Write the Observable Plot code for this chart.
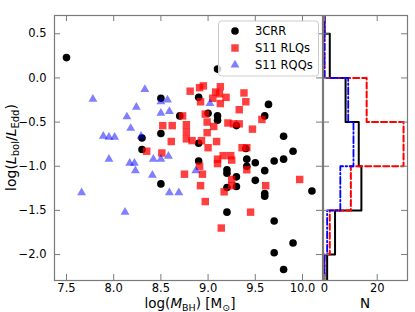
<!DOCTYPE html>
<html><head><meta charset="utf-8">
<script src="https://cdn.jsdelivr.net/npm/d3@7"></script>
<script src="https://cdn.jsdelivr.net/npm/@observablehq/plot@0.6"></script>
<style>
body{margin:0;background:#fff;}
#chart{position:relative;width:415px;height:312px;}
#chart svg{position:absolute;left:0;top:0;}
</style></head><body><div id="chart"></div>
<script>
// ---- data ----
const massTicks = [7.5, 8.0, 8.5, 9.0, 9.5, 10.0];
const ratioTicks = [0.5, 0.0, -0.5, -1.0, -1.5, -2.0];
const countTicks = [0, 20];
const seriesNames = ["3CRR", "S11 RLQs", "S11 RQQs"];

// 3CRR: [log M_BH, log L_bol/L_Edd]
const crr = [
  [7.50,0.23],[9.10,0.10],[8.50,-0.23],[8.90,-0.22],[8.70,-0.43],[9.00,-0.40],
  [9.10,-0.43],[9.10,-0.48],[9.64,-0.30],[9.60,-0.43],[9.30,-0.54],[8.50,-0.63],
  [8.30,-0.68],[9.80,-0.66],[8.90,-0.74],[8.30,-0.81],[9.40,-0.80],[9.90,-0.83],
  [9.80,-0.92],[9.70,-0.94],[8.90,-0.94],[9.50,-0.96],[9.41,-0.92],[9.41,-1.00],
  [9.60,-1.05],[9.20,-1.04],[9.20,-1.08],[9.30,-1.12],[9.30,-1.23],[9.20,-1.24],
  [9.50,-1.16],[8.50,-1.20],[9.60,-1.31],[9.60,-1.34],[10.10,-1.28],[9.20,-1.52],
  [9.70,-1.62],[9.90,-1.87],[9.70,-1.98],[9.80,-2.17]
];
// S11 RLQs
const rlq = [
  [8.81,-0.15],[8.91,-0.11],[8.95,-0.09],[9.08,-0.16],[9.13,-0.10],[9.05,-0.23],
  [9.12,-0.18],[9.19,-0.22],[9.13,-0.29],[9.38,-0.17],[9.40,-0.27],[9.33,-0.36],
  [8.97,-0.41],[8.73,-0.43],[8.92,-0.27],[9.57,-0.47],
  [8.52,-0.54],[8.62,-0.54],[8.61,-0.72],[8.77,-0.53],[8.77,-0.61],[8.83,-0.71],
  [8.93,-0.71],[8.99,-0.62],[9.09,-0.72],[8.99,-0.50],[9.06,-0.55],[9.21,-0.51],
  [9.27,-0.52],[9.33,-0.52],[9.47,-0.58],[9.36,-0.79],[9.41,-0.79],[9.00,-0.79],
  [8.35,-0.83],[8.51,-0.85],[9.10,-0.92],[9.16,-0.88],[9.24,-0.88],[9.25,-0.93],
  [9.10,-0.97],[8.77,-0.69],
  [8.91,-1.00],[8.94,-1.09],[8.75,-1.09],[8.92,-1.22],[8.97,-1.40],[9.17,-1.29],
  [9.41,-1.04],[9.25,-1.15],[9.25,-1.22],[9.61,-1.22],[9.97,-1.15],
  [9.45,-1.52],[9.14,-1.70]
];
// S11 RQQs
const rqq = [
  [7.78,-0.24],[8.33,-0.13],[8.50,-0.27],[8.57,-0.25],[8.24,-0.33],[8.50,-0.40],
  [8.59,-0.38],[8.14,-0.44],[9.02,-0.29],
  [8.18,-0.57],[7.89,-0.66],[7.95,-0.67],[8.01,-0.67],[8.29,-0.66],[7.95,-0.92],
  [8.17,-0.965],[8.22,-0.965],[8.42,-0.92],[8.50,-0.92],[8.58,-0.885],
  [8.23,-1.05],[8.41,-1.10],[7.66,-1.30],[8.59,-1.30],[8.69,-1.30],[8.87,-1.05],
  [8.12,-1.52]
];
// histogram (counts per bin, bins listed top to bottom)
const binEdges = [1.0, 0.5, 0.0, -0.5, -1.0, -1.5, -2.0, -2.5];
const histCRR = [0, 2, 8, 13, 14, 4, 1];
const histRLQ = [0, 0, 16, 30, 10, 2, 0];
const histRQQ = [0, 0, 9, 11, 6, 1, 0];

// ---- layout ----
const W = 415, H = 312, mT = 15, mB = 32, mL = 54, frameR = 322, histL = 323, histR = 407;
const plotH = H - mT - mB, mainW = frameR - mL, histW = histR - histL;
const grey = "#7a7a7a";
const fmt = d => (d < 0 ? "\u2212" : "") + Math.abs(d).toFixed(1);
const yDomain = [-2.294, 0.707];
const font = {fontFamily: "DejaVu Sans", fontSize: "11.5px", background: "transparent", color: "#000", overflow: "visible"};
const redC = "#ff0000", blueC = "#0000ff";
const rCirc = 3.8, rSq = 4.2, rTri = 3.3;

const main = Plot.plot({
  width: W, height: H, marginLeft: mL, marginRight: W - frameR, marginTop: mT, marginBottom: mB,
  style: font,
  x: {domain: [7.373, 10.212]},
  y: {domain: yDomain},
  marks: [
    Plot.dot(crr, {x: d => d[0], y: d => d[1], r: rCirc, fill: "black", stroke: "none"}),
    Plot.dot(rlq, {x: d => d[0], y: d => d[1], r: rSq, symbol: "square", fill: redC, fillOpacity: 0.75, stroke: "none"}),
    Plot.dot(rqq, {x: d => d[0], y: d => d[1], r: rTri, symbol: "triangle", fill: blueC, fillOpacity: 0.5, stroke: "none"}),
    Plot.frame({stroke: grey, strokeWidth: 1.2}),
    Plot.axisX(massTicks, {anchor: "bottom", tickSize: 0, tickPadding: 3, tickFormat: fmt, label: null}),
    Plot.axisY(ratioTicks, {anchor: "left", tickSize: 0, tickPadding: 8, tickFormat: fmt, label: null}),
    Plot.tickX(massTicks, {x: d => d, insetTop: plotH - 6, stroke: grey}),
    Plot.tickX(massTicks, {x: d => d, insetBottom: plotH - 6, stroke: grey}),
    Plot.tickY(ratioTicks, {y: d => d, insetRight: mainW - 6, stroke: grey}),
    Plot.tickY(ratioTicks, {y: d => d, insetLeft: mainW - 6, stroke: grey})
  ]
});

function steps(counts) {
  const pts = [{n: 0, y: binEdges[0]}];
  counts.forEach((c, i) => { pts.push({n: c, y: binEdges[i]}); pts.push({n: c, y: binEdges[i + 1]}); });
  pts.push({n: 0, y: binEdges[binEdges.length - 1]});
  return pts;
}

const hist = Plot.plot({
  width: W, height: H, marginLeft: histL, marginRight: W - histR, marginTop: mT, marginBottom: mB,
  style: font,
  x: {domain: [-0.38, 31.5]},
  y: {domain: yDomain, axis: null},
  marks: [
    Plot.line(steps(histCRR), {x: "n", y: "y", stroke: "black", strokeWidth: 2, clip: true}),
    Plot.line(steps(histRLQ), {x: "n", y: "y", stroke: redC, strokeWidth: 2, strokeDasharray: "6,3", clip: true}),
    Plot.line(steps(histRQQ), {x: "n", y: "y", stroke: blueC, strokeWidth: 1.8, strokeDasharray: "7,2.5,1.5,2.5", clip: true}),
    Plot.frame({stroke: grey, strokeWidth: 1.2}),
    Plot.axisX(countTicks, {anchor: "bottom", tickSize: 0, tickPadding: 3, tickFormat: d => String(d), label: null}),
    Plot.tickX(countTicks, {x: d => d, insetTop: plotH - 6, stroke: grey}),
    Plot.tickX(countTicks, {x: d => d, insetBottom: plotH - 6, stroke: grey}),
    Plot.tickY(ratioTicks, {y: d => d, insetRight: histW - 6, stroke: grey}),
    Plot.tickY(ratioTicks, {y: d => d, insetLeft: histW - 6, stroke: grey})
  ]
});

const box = document.getElementById("chart");
box.appendChild(main);
box.appendChild(hist);

// ---- labels & legend (real SVG text) ----
const svg = d3.select(hist);
const g = svg.append("g").attr("font-family", "DejaVu Sans").attr("fill", "black");

const xl = g.append("text").attr("x", 190).attr("y", 308).attr("text-anchor", "middle").attr("font-size", 13.5);
xl.append("tspan").text("log(");
xl.append("tspan").attr("font-style", "italic").text("M");
xl.append("tspan").attr("font-size", 9.5).attr("dy", 3).text("BH");
xl.append("tspan").attr("dy", -3).text(") [M");
xl.append("tspan").attr("font-size", 9.5).attr("dy", 3).text("\u2299");
xl.append("tspan").attr("dy", -3).text("]");

const yl = g.append("text").attr("transform", "translate(16,147.5) rotate(-90)").attr("text-anchor", "middle").attr("font-size", 14);
yl.append("tspan").text("log(");
yl.append("tspan").attr("font-style", "italic").text("L");
yl.append("tspan").attr("font-size", 10).attr("dy", 3).text("bol");
yl.append("tspan").attr("dy", -3).text("/");
yl.append("tspan").attr("font-style", "italic").text("L");
yl.append("tspan").attr("font-size", 10).attr("dy", 3).text("Edd");
yl.append("tspan").attr("dy", -3).text(")");

g.append("text").attr("x", 365).attr("y", 308).attr("text-anchor", "middle").attr("font-size", 13.5).text("N");

const lg = svg.append("g");
lg.append("rect").attr("x", 218.5).attr("y", 21).attr("width", 100).attr("height", 55).attr("rx", 3)
  .attr("fill", "white").attr("fill-opacity", 0.8).attr("stroke", "#cccccc");
const sym = [
  {t: d3.symbolCircle, r: rCirc, fill: "black", op: 1},
  {t: d3.symbolSquare, r: rSq, fill: redC, op: 0.75},
  {t: d3.symbolTriangle, r: rTri, fill: blueC, op: 0.5}
];
seriesNames.forEach((name, i) => {
  const cy = 31 + i * 17;
  lg.append("path").attr("transform", `translate(235,${cy})`)
    .attr("d", d3.symbol(sym[i].t, Math.PI * sym[i].r * sym[i].r)())
    .attr("fill", sym[i].fill).attr("fill-opacity", sym[i].op);
  lg.append("text").attr("x", 255).attr("y", cy + 4).attr("text-anchor", "start")
    .attr("font-family", "DejaVu Sans").attr("font-size", 11.5).attr("fill", "black").text(name);
});
</script>
</body></html>
